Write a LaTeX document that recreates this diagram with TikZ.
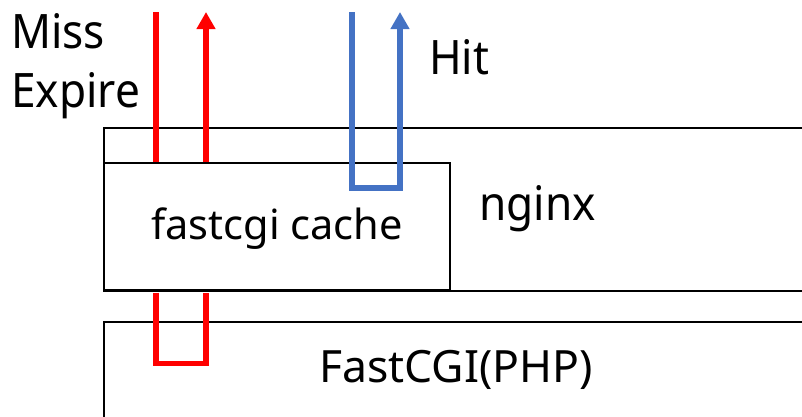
\documentclass[tikz,border=0pt]{standalone}
\usepackage{fontspec}
\setmainfont{Noto Sans}
\newfontfamily\labfont{Noto Sans}[FakeStretch=0.93]
\usetikzlibrary{arrows.meta}
\definecolor{hitblue}{HTML}{4472C4}
\definecolor{missred}{HTML}{FF0000}
\begin{document}
\begin{tikzpicture}[x=1pt,y=-1pt,
  box/.style={draw=black,line width=2.5pt},
  flow/.style={line width=5.5pt},
  tip/.style={-{Triangle[width=18pt,length=17pt]}},
  lab/.style={inner sep=0pt,font=\labfont\fontsize{47.5}{57}\selectfont},
  boxlab/.style={inner sep=0pt,anchor=base}
]
\useasboundingbox (0,0) rectangle (802,416);
\clip (0,0) rectangle (802,416);
% nginx layer (open to the right)
\draw[box] (840,128) -- (104,128) -- (104,291) -- (840,291);
% FastCGI layer (open to the right and bottom)
\draw[box] (840,322) -- (104,322) -- (104,450);
% fastcgi cache box
\node[box,minimum width=346pt,minimum height=127pt,inner sep=0pt] (cache) at (277,226.5) {};
% labels
\node[lab,anchor=base west] (miss) at (11,48) {Miss};
\node[lab,anchor=base west] (expire) at (11,107) {Expire};
\node[lab,anchor=base west] (hit) at (429,74) {Hit};
\node[lab,anchor=base west] (nginx) at (479,220) {nginx};
\node[boxlab,font=\fontsize{41.5}{50}\selectfont] (cachelab) at (277,239) {fastcgi cache};
\node[boxlab,font=\fontsize{44.5}{53}\selectfont] (php) at (456,382) {FastCGI(PHP)};
% coordinates of flows
\coordinate (r1top) at (156,12);
\coordinate (r1bot) at (156,162);
\coordinate (r2top) at (206,12);
\coordinate (r2bot) at (206,162);
\coordinate (b1top) at (352,12);
\coordinate (b1bot) at (352,188);
\coordinate (b2bot) at (400,188);
\coordinate (b2top) at (400,12);
\coordinate (u1top) at (156,292.5);
\coordinate (u1bot) at (156,363.5);
\coordinate (u2bot) at (206,363.5);
\coordinate (u2top) at (206,292.5);
% miss / expire flow
\draw[flow,missred] (r1top) -- (r1bot);
\draw[flow,missred,tip] (r2bot) -- (r2top);
\draw[flow,missred] (u1top) -- (u1bot) -- (u2bot) -- (u2top);
% hit flow
\draw[flow,hitblue,tip] (b1top) -- (b1bot) -- (b2bot) -- (b2top);
\end{tikzpicture}
\end{document}
